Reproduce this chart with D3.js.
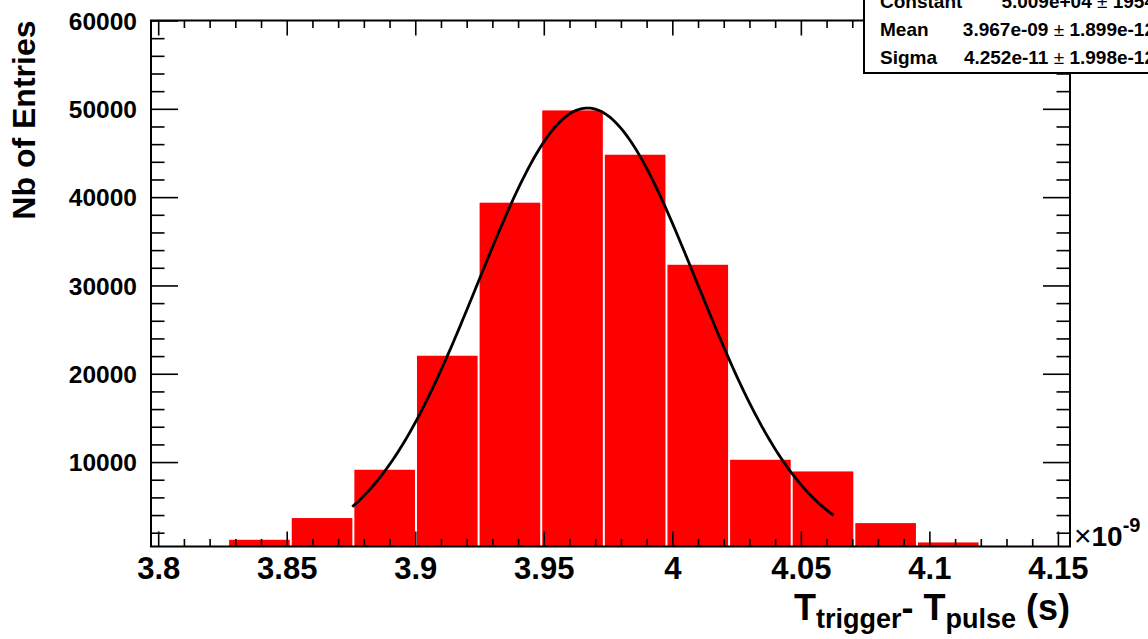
<!DOCTYPE html>
<html><head><meta charset="utf-8">
<script src="https://cdn.jsdelivr.net/npm/d3@7"></script>
<style>
body{margin:0;background:#fff;}
svg{display:block;font-family:"Liberation Sans",Arial,Helvetica,sans-serif;}
</style>
</head><body>
<svg id="c" width="1148" height="639"></svg>
<script>
// ---- data (x in units of 1e-9 s) ----
const binStart = 3.8272;
const binWidth = 0.02436;
const binValues = [1200, 3660, 9130, 22040, 39370, 49820, 44800, 32340, 10260, 8940, 3090, 900];
const xTicks = [3.8, 3.85, 3.9, 3.95, 4.0, 4.05, 4.1, 4.15];
const xTickLabels = ["3.8", "3.85", "3.9", "3.95", "4", "4.05", "4.1", "4.15"];
const yTicks = [10000, 20000, 30000, 40000, 50000, 60000];
const yTickLabels = ["10000", "20000", "30000", "40000", "50000", "60000"];
const fitConstant = 5.009e4;
const fitMean = 3.967;
const fitSigma = 0.04252;
const fitRange = [3.8755, 4.0628];
const statNames = ["Constant", "Mean", "Sigma"];
const statValues = ["5.009e+04", "3.967e-09", "4.252e-11"];
const statErrors = ["1954", "1.899e-12", "1.998e-12"];

// ---- layout ----
const L = 151, R = 1070, T = 20.5, B = 546.5;
const xDomain = [3.7972, 4.1547];
const yDomain = [440, 60000];

const svg = d3.select("#c");
const x = d3.scaleLinear().domain(xDomain).range([L, R]);
const y = d3.scaleLinear().domain(yDomain).range([B, T]);

// bars
svg.append("g").selectAll("rect").data(binValues).join("rect")
  .attr("x", (d, i) => x(binStart + i * binWidth) + 1)
  .attr("width", (d, i) => x(binStart + (i + 1) * binWidth) - x(binStart + i * binWidth) - 2)
  .attr("y", d => y(d))
  .attr("height", d => B - y(d))
  .attr("fill", "#ff0000");

// fit curve
const fx = d3.range(0, 201).map(k => fitRange[0] + (fitRange[1] - fitRange[0]) * k / 200);
const gauss = v => fitConstant * Math.exp(-0.5 * Math.pow((v - fitMean) / fitSigma, 2));
svg.append("path")
  .datum(fx)
  .attr("d", d3.line().x(v => x(v)).y(v => y(gauss(v))))
  .attr("fill", "none").attr("stroke", "#000").attr("stroke-width", 2.8);

// axes
const xMinor = d3.range(380, 416).map(d => d / 100).filter(v => !xTicks.some(t => Math.abs(t - v) < 1e-9));
const yMinor = d3.range(1, 30).map(d => d * 2000).filter(v => v % 10000 !== 0);

function styleAxis(g) {
  g.select(".domain").remove();
  g.selectAll("line").attr("stroke", "#000").attr("stroke-width", 1.6);
}

const bottomMaj = svg.append("g").attr("transform", `translate(0,${B})`)
  .call(d3.axisBottom(x).tickValues(xTicks).tickSize(-15).tickPadding(10)
    .tickFormat((d, i) => xTickLabels[i]));
styleAxis(bottomMaj);
bottomMaj.selectAll("text").attr("font-size", 31).attr("font-weight", "bold")
  .attr("font-family", "'Liberation Sans',Arial,sans-serif").attr("fill", "#000");
const bottomMin = svg.append("g").attr("transform", `translate(0,${B})`)
  .call(d3.axisBottom(x).tickValues(xMinor).tickSize(-7.5).tickFormat(""));
styleAxis(bottomMin);

const topMaj = svg.append("g").attr("transform", `translate(0,${T})`)
  .call(d3.axisTop(x).tickValues(xTicks).tickSize(-15).tickFormat(""));
styleAxis(topMaj);
const topMin = svg.append("g").attr("transform", `translate(0,${T})`)
  .call(d3.axisTop(x).tickValues(xMinor).tickSize(-7.5).tickFormat(""));
styleAxis(topMin);

const leftMaj = svg.append("g").attr("transform", `translate(${L},0)`)
  .call(d3.axisLeft(y).tickValues(yTicks).tickSize(-27).tickPadding(14)
    .tickFormat((d, i) => yTickLabels[i]));
styleAxis(leftMaj);
leftMaj.selectAll("text").attr("font-size", 24.5).attr("font-weight", "bold").attr("dy", "0.36em")
  .attr("font-family", "'Liberation Sans',Arial,sans-serif").attr("fill", "#000");
const leftMin = svg.append("g").attr("transform", `translate(${L},0)`)
  .call(d3.axisLeft(y).tickValues(yMinor).tickSize(-13.5).tickFormat(""));
styleAxis(leftMin);

const rightMaj = svg.append("g").attr("transform", `translate(${R},0)`)
  .call(d3.axisRight(y).tickValues(yTicks).tickSize(-27).tickFormat(""));
styleAxis(rightMaj);
const rightMin = svg.append("g").attr("transform", `translate(${R},0)`)
  .call(d3.axisRight(y).tickValues(yMinor).tickSize(-13.5).tickFormat(""));
styleAxis(rightMin);

// frame
svg.append("rect").attr("x", L).attr("y", T).attr("width", R - L).attr("height", B - T)
  .attr("fill", "none").attr("stroke", "#000").attr("stroke-width", 2);

// axis titles
svg.append("text")
  .attr("transform", `translate(35,${T}) rotate(-90)`)
  .attr("text-anchor", "end").attr("font-size", 32).attr("font-weight", "bold")
  .text("Nb of Entries");

const xt = svg.append("text").attr("x", R).attr("y", 620).attr("text-anchor", "end")
  .attr("font-size", 36).attr("font-weight", "bold");
xt.append("tspan").text("T");
xt.append("tspan").attr("font-size", 27).attr("dy", 8).text("trigger");
xt.append("tspan").attr("dy", -8).text("- T");
xt.append("tspan").attr("font-size", 27).attr("dy", 8).text("pulse");
xt.append("tspan").attr("dy", -8).text(" (s)");

// x10^-9
const ex = svg.append("text").attr("x", 1074).attr("y", 546);
ex.append("tspan").attr("font-size", 30).text("\u00d7");
ex.append("tspan").attr("font-size", 28).attr("font-weight", "bold").text("10");
ex.append("tspan").attr("font-size", 20).attr("font-weight", "bold").attr("dy", -14).text("-9");

// stats box
const sb = svg.append("g");
sb.append("rect").attr("x", 864).attr("y", -60).attr("width", 400).attr("height", 133)
  .attr("fill", "#fff").attr("stroke", "#000").attr("stroke-width", 2);
const rowY = [8, 36, 63.5];
statNames.forEach((n, i) => {
  sb.append("text").attr("x", 880).attr("y", rowY[i]).attr("font-size", 19).attr("font-weight", "bold").text(n);
  const t = sb.append("text").attr("x", 1155).attr("y", rowY[i]).attr("text-anchor", "end")
    .attr("font-size", 19).attr("font-weight", "bold");
  t.append("tspan").text(statValues[i] + " ");
  t.append("tspan").attr("font-weight", "normal").text("\u00b1");
  t.append("tspan").text(" " + statErrors[i]);
});
</script>
</body></html>
